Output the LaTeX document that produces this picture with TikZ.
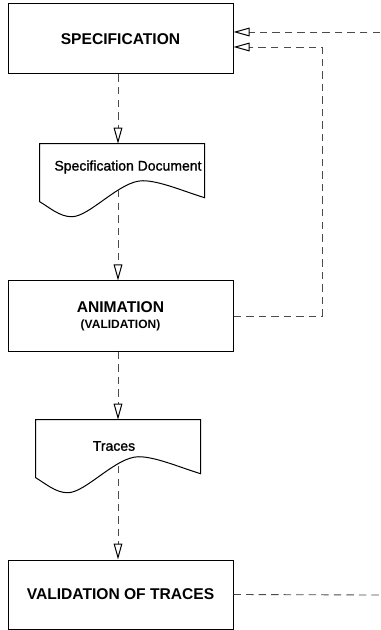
\documentclass[tikz,border=0pt]{standalone}
\usepackage{fontspec}
\setmainfont{Liberation Sans}
\newfontfamily\doclabelfont[FakeBold=1.2]{Liberation Sans}
\usetikzlibrary{arrows.meta,calc}

\definecolor{dashgray}{RGB}{75,75,75}

\tikzset{
  procbox/.style={draw=black, line width=0.75pt, fill=white, inner sep=0pt,
    minimum width=168.75pt, minimum height=52.5pt, align=center,
    font=\bfseries\fontsize{11.7}{13}\selectfont},
  docframe/.style={draw=none, inner sep=0pt, minimum width=123.75pt, minimum height=43.5pt},
  doclabel/.style={inner sep=0pt, font=\doclabelfont\fontsize{10.5}{12}\selectfont},
  flow/.style={draw=dashgray, line width=0.65pt, dash pattern=on 5.6pt off 3.8pt},
  openhead/.style={-{Triangle[open, length=12pt, width=6.5pt, fill=white, line width=0.75pt, color=black]}},
  docedge/.style={draw=black, line width=0.75pt, fill=white}
}

% wavy-bottom document outline, drawn in px units from the frame's top-left corner
\newcommand{\docoutline}[1]{%
  \begin{scope}[shift={(#1.north west)}]
    \path[docedge] (0,0) -- (165,0) -- (165,54)
      .. controls (145,48) and (120,37) .. (103,37)
      .. controls (80,37) and (50,73) .. (32,73)
      .. controls (20,73) and (10,64) .. (0,58) -- cycle;
  \end{scope}}

\begin{document}
\begin{tikzpicture}[x=0.75pt, y=-0.75pt]
  \useasboundingbox (0,0) rectangle (380,630);

  % process boxes
  \node[procbox] (spec) at (120.5,39) {SPECIFICATION};
  \node[procbox] (anim) at (120.5,316)
    {ANIMATION\\[-1pt]{\fontsize{9}{10}\selectfont (VALIDATION)}};
  \node[procbox, minimum height=51.75pt] (vot) at (120.5,594.5) {VALIDATION OF TRACES};

  % document frames
  \node[docframe] (sdoc) at (122.5,173) {};
  \node[docframe] (tdoc) at (118.5,449) {};
  \docoutline{sdoc}
  \docoutline{tdoc}
  \node[doclabel] (sdoctext) at (128,167) {Specification Document};
  \node[doclabel] (tdoctext) at (114,446) {Traces};

  % helper points
  \coordinate (axis) at (118,0);
  \coordinate (swave) at (118,190);
  \coordinate (twave) at (118,466);
  \coordinate (loopx) at (322,0);
  \coordinate (topin) at (380,32);
  \coordinate (botout) at (380,595);

  % main flow
  \draw[flow, openhead] (spec.south -| axis) -- (sdoc.north -| axis);
  \draw[flow, openhead] (swave) -- (anim.north -| axis);
  \draw[flow, openhead] (anim.south -| axis) -- (tdoc.north -| axis);
  \draw[flow, openhead] (twave) -- (vot.north -| axis);

  % feedback paths
  \draw[flow, openhead] (anim.east) -- (anim.east -| loopx)
    -- ($(spec.east -| loopx)+(0,8)$) -- ($(spec.east)+(0,8)$);
  \draw[flow, openhead] (topin) -- (topin -| spec.east);
  \draw[flow] (vot.east) -- (botout);
\end{tikzpicture}
\end{document}
